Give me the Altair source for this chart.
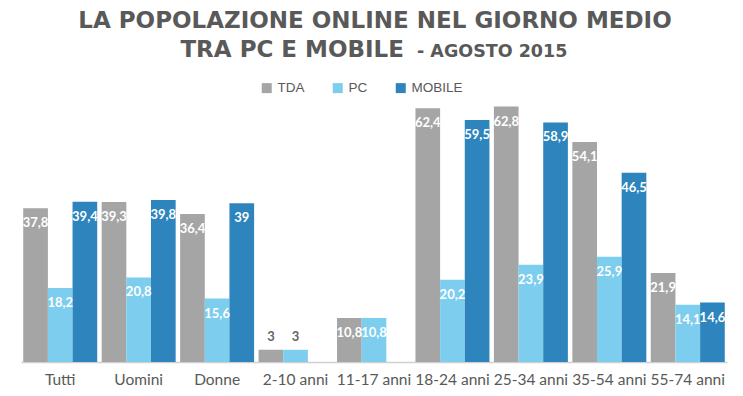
import altair as alt
import pandas as pd

categories = ["Tutti", "Uomini", "Donne", "2-10 anni", "11-17 anni",
              "18-24 anni", "25-34 anni", "35-54 anni", "55-74 anni"]
series = ["TDA", "PC", "MOBILE"]
tda = [37.8, 39.3, 36.4, 3, 10.8, 62.4, 62.8, 54.1, 21.9]
pc = [18.2, 20.8, 15.6, 3, 10.8, 20.2, 23.9, 25.9, 14.1]
mobile = [39.4, 39.8, 39, None, None, 59.5, 58.9, 46.5, 14.6]
colors = ["#a5a5a5", "#7ccdee", "#2e84bd"]

title_line1 = "LA POPOLAZIONE ONLINE NEL GIORNO MEDIO"
title_line2a = "TRA PC E MOBILE"
title_line2b = "- AGOSTO 2015"

TXT = "#595959"


def fmt(v):
    return f"{v:g}".replace(".", ",")


rows = []
for s, vals in zip(series, [tda, pc, mobile]):
    for c, v in zip(categories, vals):
        if v is None:
            continue
        rows.append({"cat": c, "serie": s, "val": v, "label": fmt(v)})
df = pd.DataFrame(rows)

base = alt.Chart(df).encode(
    x=alt.X("cat:N", sort=categories, title=None,
            scale=alt.Scale(paddingInner=0.057, paddingOuter=0.0285),
            axis=alt.Axis(labelAngle=0, ticks=False, labelPadding=10,
                          labelFont="Lato", labelFontSize=15.5, labelColor=TXT,
                          domainColor="#d0d0d0", domainWidth=1.5)),
    xOffset=alt.XOffset("serie:N", sort=series,
                        scale=alt.Scale(domain=series, paddingInner=0, paddingOuter=0)),
    y=alt.Y("val:Q", scale=alt.Scale(domain=[0, 64.4], nice=False), axis=None),
)

bars = base.mark_bar().encode(
    color=alt.Color("serie:N", sort=series,
                    scale=alt.Scale(domain=series, range=colors),
                    legend=alt.Legend(title=None, orient="none", legendX=239, legendY=-19,
                                      direction="horizontal", symbolType="square",
                                      symbolSize=100, symbolStrokeWidth=0,
                                      labelFont="Liberation Sans", labelFontSize=13.5,
                                      labelColor=TXT, columnPadding=26, labelOffset=4,
                                      padding=0))
)

labels_in = base.transform_filter("datum.val >= 5").mark_text(
    dy=15, color="white", font="Lato", fontWeight="bold", fontSize=13, baseline="middle"
).encode(text="label:N")

labels_out = base.transform_filter("datum.val < 5").mark_text(
    dy=-13, color="#666666", font="Lato", fontWeight="bold", fontSize=13, baseline="middle"
).encode(text="label:N")

t1 = alt.Chart(pd.DataFrame({"t": [title_line1]})).mark_text(
    font="DejaVu Sans", fontWeight="bold", fontSize=23, color=TXT,
    align="center", baseline="alphabetic"
).encode(x=alt.value(354), y=alt.value(-72), text="t:N")

t2a = alt.Chart(pd.DataFrame({"t": [title_line2a]})).mark_text(
    font="DejaVu Sans", fontWeight="bold", fontSize=23, color=TXT,
    align="right", baseline="alphabetic"
).encode(x=alt.value(383), y=alt.value(-43), text="t:N")

t2b = alt.Chart(pd.DataFrame({"t": [title_line2b]})).mark_text(
    font="DejaVu Sans", fontWeight="bold", fontSize=17.5, color=TXT,
    align="left", baseline="alphabetic"
).encode(x=alt.value(396), y=alt.value(-43), text="t:N")

chart = alt.layer(bars, labels_in, labels_out, t1, t2a, t2b).properties(
    width=706, height=262,
    autosize=alt.AutoSizeParams(type="none"),
    padding={"left": 13, "top": 92, "right": 8, "bottom": 26},
).configure_view(stroke=None)

chart.save("out.html", embed_options={"renderer": "svg", "actions": False})
